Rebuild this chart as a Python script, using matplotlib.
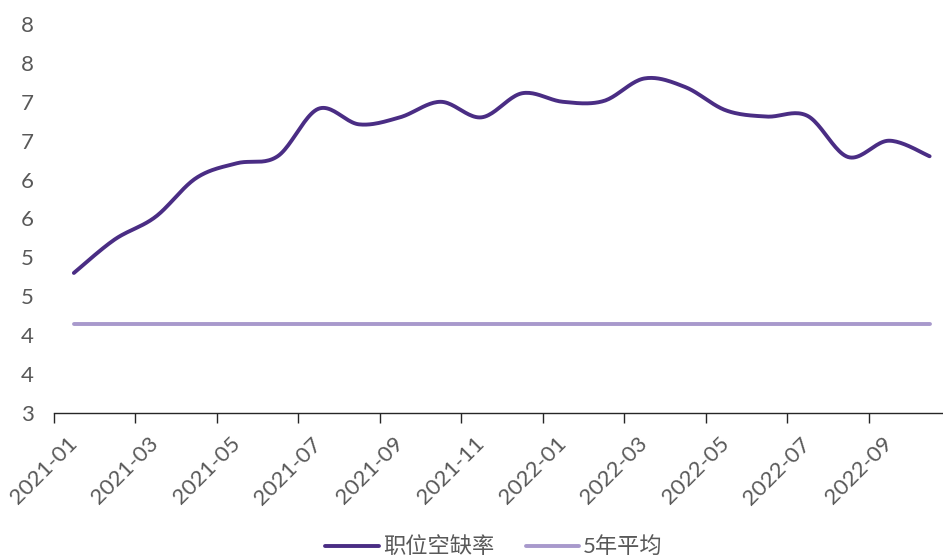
import numpy as np
import matplotlib.pyplot as plt

plt.rcParams['font.family'] = ['Lato', 'Noto Sans CJK SC', 'DejaVu Sans']

# monthly categories
months = ['2021-01', '2021-02', '2021-03', '2021-04', '2021-05', '2021-06',
          '2021-07', '2021-08', '2021-09', '2021-10', '2021-11', '2021-12',
          '2022-01', '2022-02', '2022-03', '2022-04', '2022-05', '2022-06',
          '2022-07', '2022-08', '2022-09', '2022-10']

# job vacancy rate
vacancy = [4.80, 5.23, 5.52, 6.02, 6.21, 6.30, 6.91, 6.71, 6.80, 7.00, 6.80,
           7.11, 7.00, 7.01, 7.30, 7.19, 6.89, 6.81, 6.82, 6.29, 6.50, 6.30]

# 5-year average
avg_5y = 4.15

y_ticks = [3.0, 3.5, 4.0, 4.5, 5.0, 5.5, 6.0, 6.5, 7.0, 7.5, 8.0]
y_labels = ['3', '4', '4', '5', '5', '6', '6', '7', '7', '8', '8']

dark = '#4a2d84'
light = '#a899cc'
grey = '#595959'


def smooth(y, steps=24):
    # bezier smoothing through the points, like a spreadsheet "smoothed line"
    pts = np.column_stack([np.arange(len(y), dtype=float), np.asarray(y, float)])
    out = []
    t = np.linspace(0, 1, steps)[:, None]
    for i in range(len(pts) - 1):
        p0 = pts[max(i - 1, 0)]
        p1 = pts[i]
        p2 = pts[i + 1]
        p3 = pts[min(i + 2, len(pts) - 1)]
        c1 = p1 + (p2 - p0) / 6
        c2 = p2 - (p3 - p1) / 6
        seg = (1 - t) ** 3 * p1 + 3 * (1 - t) ** 2 * t * c1 + 3 * (1 - t) * t ** 2 * c2 + t ** 3 * p2
        out.append(seg if i == 0 else seg[1:])
    return np.vstack(out)


fig = plt.figure(figsize=(9.43, 5.58), dpi=100)
ax = fig.add_axes([53.5 / 943, 145 / 558, (943 - 53.5) / 943, (413 - 24) / 558])

x = np.arange(len(months))
sm = smooth(vacancy)
ax.plot(sm[:, 0], sm[:, 1], color=dark, lw=2.8, solid_capstyle='round', label='职位空缺率')
ax.plot(x, np.full(len(x), avg_5y), color=light, lw=2.8, solid_capstyle='round', label='5年平均')

ax.set_xlim(-0.5, -0.5 + (943 - 53.5) / 40.75)
ax.set_ylim(3, 8)

ax.set_yticks(y_ticks)
ax.set_yticklabels(y_labels)
ax.tick_params(axis='y', length=0, pad=14, labelsize=16, labelcolor=grey)

# labels on every other category centre, tick marks on category boundaries
ax.set_xticks(x[::2])
ax.set_xticklabels(months[::2], rotation=45, ha='right', va='center', rotation_mode='anchor')
ax.tick_params(axis='x', which='major', length=0, pad=20, labelsize=16, labelcolor=grey)
ax.set_xticks(x[::2] - 0.5, minor=True)
ax.tick_params(axis='x', which='minor', length=7, width=1, color='#262626', direction='out')

for s in ['top', 'right', 'left']:
    ax.spines[s].set_visible(False)
ax.spines['bottom'].set_color('#262626')
ax.spines['bottom'].set_linewidth(1)

leg = fig.legend(loc='center', bbox_to_anchor=(0.524, 0.02), ncol=2, frameon=False,
                 fontsize=16, handlelength=2.4, handletextpad=0.2, columnspacing=1.4)
for t in leg.get_texts():
    t.set_color(grey)

fig.savefig('out.png', dpi=100)
